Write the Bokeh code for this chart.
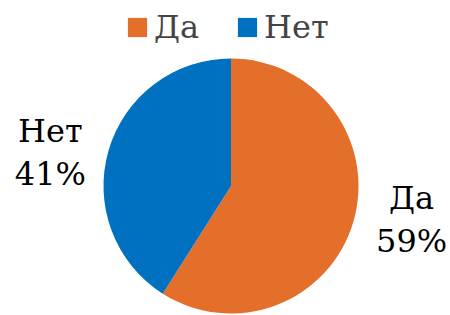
import math
from bokeh.plotting import figure
from bokeh.models import Range1d, Legend, LegendItem, ColumnDataSource
from bokeh.core.properties import value
from bokeh.embed import file_html
from bokeh.resources import INLINE

# data
categories = ["Да", "Нет"]
shares = [59, 41]
colors = ["#E36F2A", "#0070C0"]

W, H = 450, 315
FONT = "DejaVu Serif"
cx, cy, r = 230.5, 129.5, 127.5

total = float(sum(shares))
starts, ends, lx, ly, labels = [], [], [], [], []
acc = 0.0
for cat, s in zip(categories, shares):
    a0 = math.pi / 2 - 2 * math.pi * acc / total
    acc += s
    a1 = math.pi / 2 - 2 * math.pi * acc / total
    starts.append(a0)
    ends.append(a1)
    mid = (a0 + a1) / 2
    lx.append(cx + 1.475 * r * math.cos(mid))
    ly.append(cy + 0.94 * r * math.sin(mid))
    labels.append(f"{cat}\n{round(100 * s / total)}%")

src = ColumnDataSource(dict(cat=categories, start=starts, end=ends, color=colors,
                            lx=lx, ly=ly, label=labels))

p = figure(width=W, height=H, x_range=Range1d(0, W), y_range=Range1d(0, H),
           output_backend="svg", toolbar_location=None, min_border=0,
           x_axis_type=None, y_axis_type=None)
p.grid.visible = False
p.outline_line_color = None

wr = p.wedge(x=cx, y=cy, radius=r, radius_units="screen", start_angle="start",
             end_angle="end", direction="clock", fill_color="color",
             line_color=None, source=src)

p.text(x="lx", y="ly", text="label", source=src, text_font=value(FONT),
       text_font_size="32px", text_align="center", text_baseline="middle",
       text_line_height=1.15, text_color="black")

items = [LegendItem(label=c, renderers=[wr], index=i) for i, c in enumerate(categories)]
legend = Legend(items=items, orientation="horizontal", location=(125, 269),
                label_text_font=FONT, label_text_font_size="32px",
                glyph_width=24, glyph_height=24, label_standoff=5, spacing=36,
                padding=0, margin=0, border_line_color=None,
                background_fill_alpha=0)
p.add_layout(legend)

open("out.html", "w").write(file_html(p, INLINE))
